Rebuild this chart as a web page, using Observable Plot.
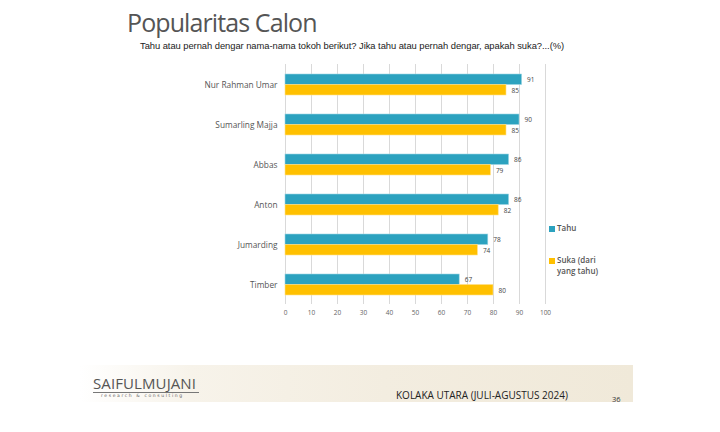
<!DOCTYPE html>
<html>
<head>
<meta charset="utf-8">
<script src="https://cdn.jsdelivr.net/npm/d3@7"></script>
<script src="https://cdn.jsdelivr.net/npm/@observablehq/plot@0.6"></script>
<style>
  html, body { margin: 0; padding: 0; background: #fff; }
  body { width: 720px; height: 432px; position: relative; overflow: hidden; }
  .abs { position: absolute; white-space: nowrap; }
  #title { left: 127px; top: 5px; font-family: "Open Sans", sans-serif; font-size: 25px; color: #555; letter-spacing: -0.9px; }
  #subtitle { left: 140px; top: 40px; font-family: "Liberation Sans", Arial, sans-serif; font-size: 9.4px; color: #222; letter-spacing: -0.05px; }
  #chart { position: absolute; left: 0; top: 0; }
  .leg { font-family: "Open Sans", sans-serif; font-size: 8px; font-weight: 600; color: #555; line-height: 11px; }
  .sw { position: absolute; width: 6px; height: 6px; }
  #footer { position: absolute; left: 80px; top: 365px; width: 553px; height: 37px;
    background: linear-gradient(to right, #ffffff 0%, #f7f3ea 20%, #f3ede0 55%, #f0e9d9 100%); }
  #logo { left: 93px; top: 373px; font-family: "Open Sans", sans-serif; font-size: 15px; color: #555; letter-spacing: 0.1px; }
  #logoline { position: absolute; left: 93px; top: 392px; width: 106px; height: 1px; background: #777; }
  #logosub { left: 101px; top: 393px; font-family: "DejaVu Sans", sans-serif; font-size: 4.5px; color: #666; letter-spacing: 1.6px; }
  #place { left: 396px; top: 388px; font-family: "Open Sans", sans-serif; font-size: 10px; color: #222; }
  #page { left: 612px; top: 394px; font-family: "Open Sans", sans-serif; font-size: 7.5px; color: #333; }
</style>
</head>
<body>
<div id="chart"></div>
<div class="abs" id="title">Popularitas Calon</div>
<div class="abs" id="subtitle">Tahu atau pernah dengar nama-nama tokoh berikut? Jika tahu atau pernah dengar, apakah suka?...(%)</div>

<div class="sw" style="left:549px; top:226px; background:#2ca2bf;"></div>
<div class="abs leg" style="left:557px; top:222px;">Tahu</div>
<div class="sw" style="left:549px; top:258px; background:#ffc000;"></div>
<div class="abs leg" style="left:557px; top:254px;">Suka (dari<br>yang tahu)</div>

<div id="footer"></div>
<div class="abs" id="logo">SAIFULMUJANI</div>
<div id="logoline"></div>
<div class="abs" id="logosub">research &amp; consulting</div>
<div class="abs" id="place">KOLAKA UTARA (JULI-AGUSTUS 2024)</div>
<div class="abs" id="page">36</div>

<script>
const names = ["Nur Rahman Umar", "Sumarling Majja", "Abbas", "Anton", "Jumarding", "Timber"];
const tahu = [91, 90, 86, 86, 78, 67];
const suka = [85, 85, 79, 82, 74, 80];
const xTicks = [0, 10, 20, 30, 40, 50, 60, 70, 80, 90, 100];

const tahuData = names.map((n, i) => ({name: n, value: tahu[i]}));
const sukaData = names.map((n, i) => ({name: n, value: suka[i]}));

const half = 10.5;

const chart = Plot.plot({
  width: 720,
  height: 432,
  marginLeft: 285,
  marginRight: 175,
  marginTop: 64,
  marginBottom: 128,
  style: {fontFamily: "Open Sans, sans-serif", background: "transparent"},
  x: {domain: [0, 100], ticks: xTicks, tickSize: 0, tickPadding: 6, label: null, tickFormat: d => String(d)},
  y: {domain: names, paddingInner: 0.475, paddingOuter: 0.2375, tickSize: 0, tickPadding: 8, label: null},
  marks: [
    Plot.ruleX(xTicks, {stroke: "#d9d9d9", strokeWidth: 1}),
    Plot.barX(tahuData, {y: "name", x: "value", fill: "#2ca2bf", insetBottom: half, stroke: "#9fd6e3", strokeWidth: 0.6}),
    Plot.barX(sukaData, {y: "name", x: "value", fill: "#ffc000", insetTop: half, stroke: "#ffe08a", strokeWidth: 0.6}),
    Plot.text(tahuData, {y: "name", x: "value", text: d => String(d.value), dx: 5, dy: -5, textAnchor: "start", fontSize: 6.5, fill: "#444"}),
    Plot.text(sukaData, {y: "name", x: "value", text: d => String(d.value), dx: 5, dy: 5.5, textAnchor: "start", fontSize: 6.5, fill: "#444"}),
    Plot.axisY({tickSize: 0, tickPadding: 8, fontSize: 8.3, fill: "#555", stroke: null}),
    Plot.axisX({tickSize: 0, tickPadding: 6, fontSize: 6.5, fill: "#666", ticks: xTicks})
  ]
});
document.getElementById("chart").appendChild(chart);
</script>
</body>
</html>
